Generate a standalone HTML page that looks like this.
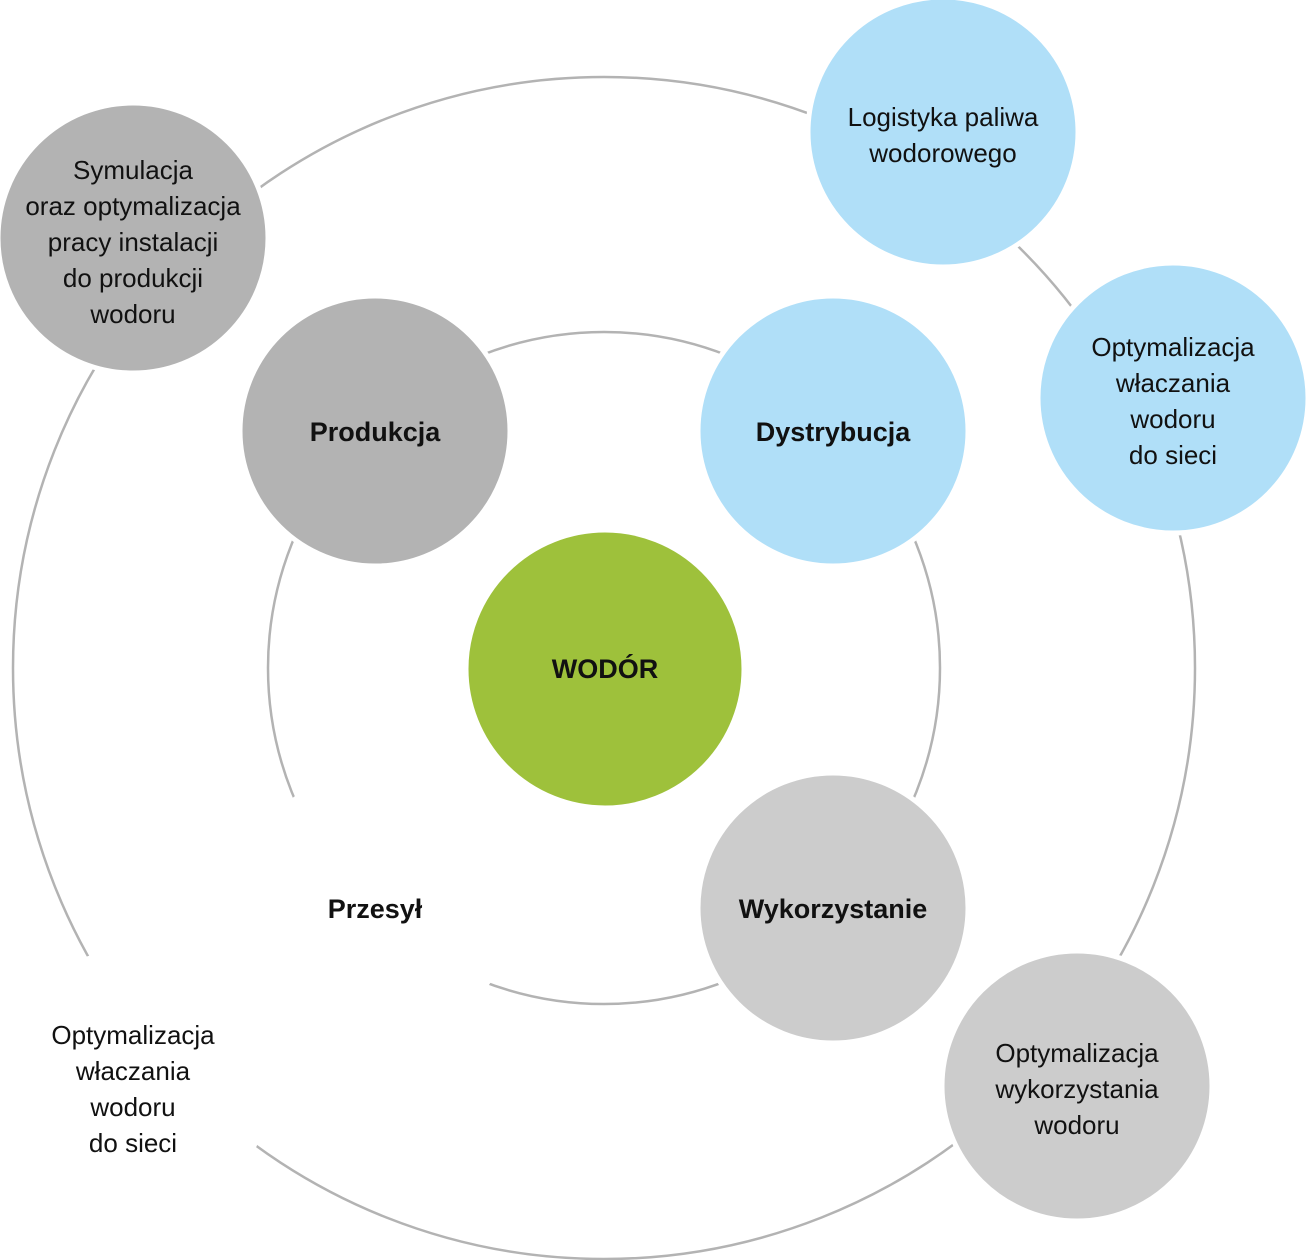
<!DOCTYPE html>
<html><head><meta charset="utf-8"><style>
html,body{margin:0;padding:0;background:#fff;}
svg{display:block;}
text{font-family:"Liberation Sans",sans-serif;font-size:26px;fill:#111;text-anchor:middle;}
.b{font-weight:bold;font-size:27px;}
</style></head><body>
<svg width="1306" height="1260" viewBox="0 0 1306 1260">
<circle cx="604" cy="668" r="591" fill="none" stroke="#b3b3b3" stroke-width="2.5"/>
<circle cx="604" cy="668" r="336" fill="none" stroke="#b3b3b3" stroke-width="2.5"/>
<g stroke="#fff" stroke-width="5">
<circle cx="375" cy="431" r="135" fill="#b3b3b3"/>
<circle cx="833" cy="431" r="135" fill="#b0dff8"/>
<circle cx="833" cy="908" r="135" fill="#cccccc"/>
<circle cx="375" cy="908" r="135" fill="#fff"/>
<circle cx="605" cy="669" r="139" fill="#9ec13b"/>
<circle cx="133" cy="238" r="135" fill="#b3b3b3"/>
<circle cx="943" cy="132" r="135" fill="#b0dff8"/>
<circle cx="1173" cy="398" r="135" fill="#b0dff8"/>
<circle cx="1077" cy="1086" r="135" fill="#cccccc"/>
<circle cx="133" cy="1086" r="135" fill="#fff"/>
</g>
<text class="b" x="605" y="678">WODÓR</text>
<text class="b" x="375" y="441">Produkcja</text>
<text class="b" x="833" y="441">Dystrybucja</text>
<text class="b" x="833" y="918">Wykorzystanie</text>
<text class="b" x="375" y="918">Przesył</text>
<text x="133" y="179">Symulacja</text>
<text x="133" y="215">oraz optymalizacja</text>
<text x="133" y="251">pracy instalacji</text>
<text x="133" y="287">do produkcji</text>
<text x="133" y="323">wodoru</text>
<text x="943" y="126">Logistyka paliwa</text>
<text x="943" y="162">wodorowego</text>
<text x="1173" y="356">Optymalizacja</text>
<text x="1173" y="392">właczania</text>
<text x="1173" y="428">wodoru</text>
<text x="1173" y="464">do sieci</text>
<text x="1077" y="1062">Optymalizacja</text>
<text x="1077" y="1098">wykorzystania</text>
<text x="1077" y="1134">wodoru</text>
<text x="133" y="1044">Optymalizacja</text>
<text x="133" y="1080">właczania</text>
<text x="133" y="1116">wodoru</text>
<text x="133" y="1152">do sieci</text>
</svg>
</body></html>
